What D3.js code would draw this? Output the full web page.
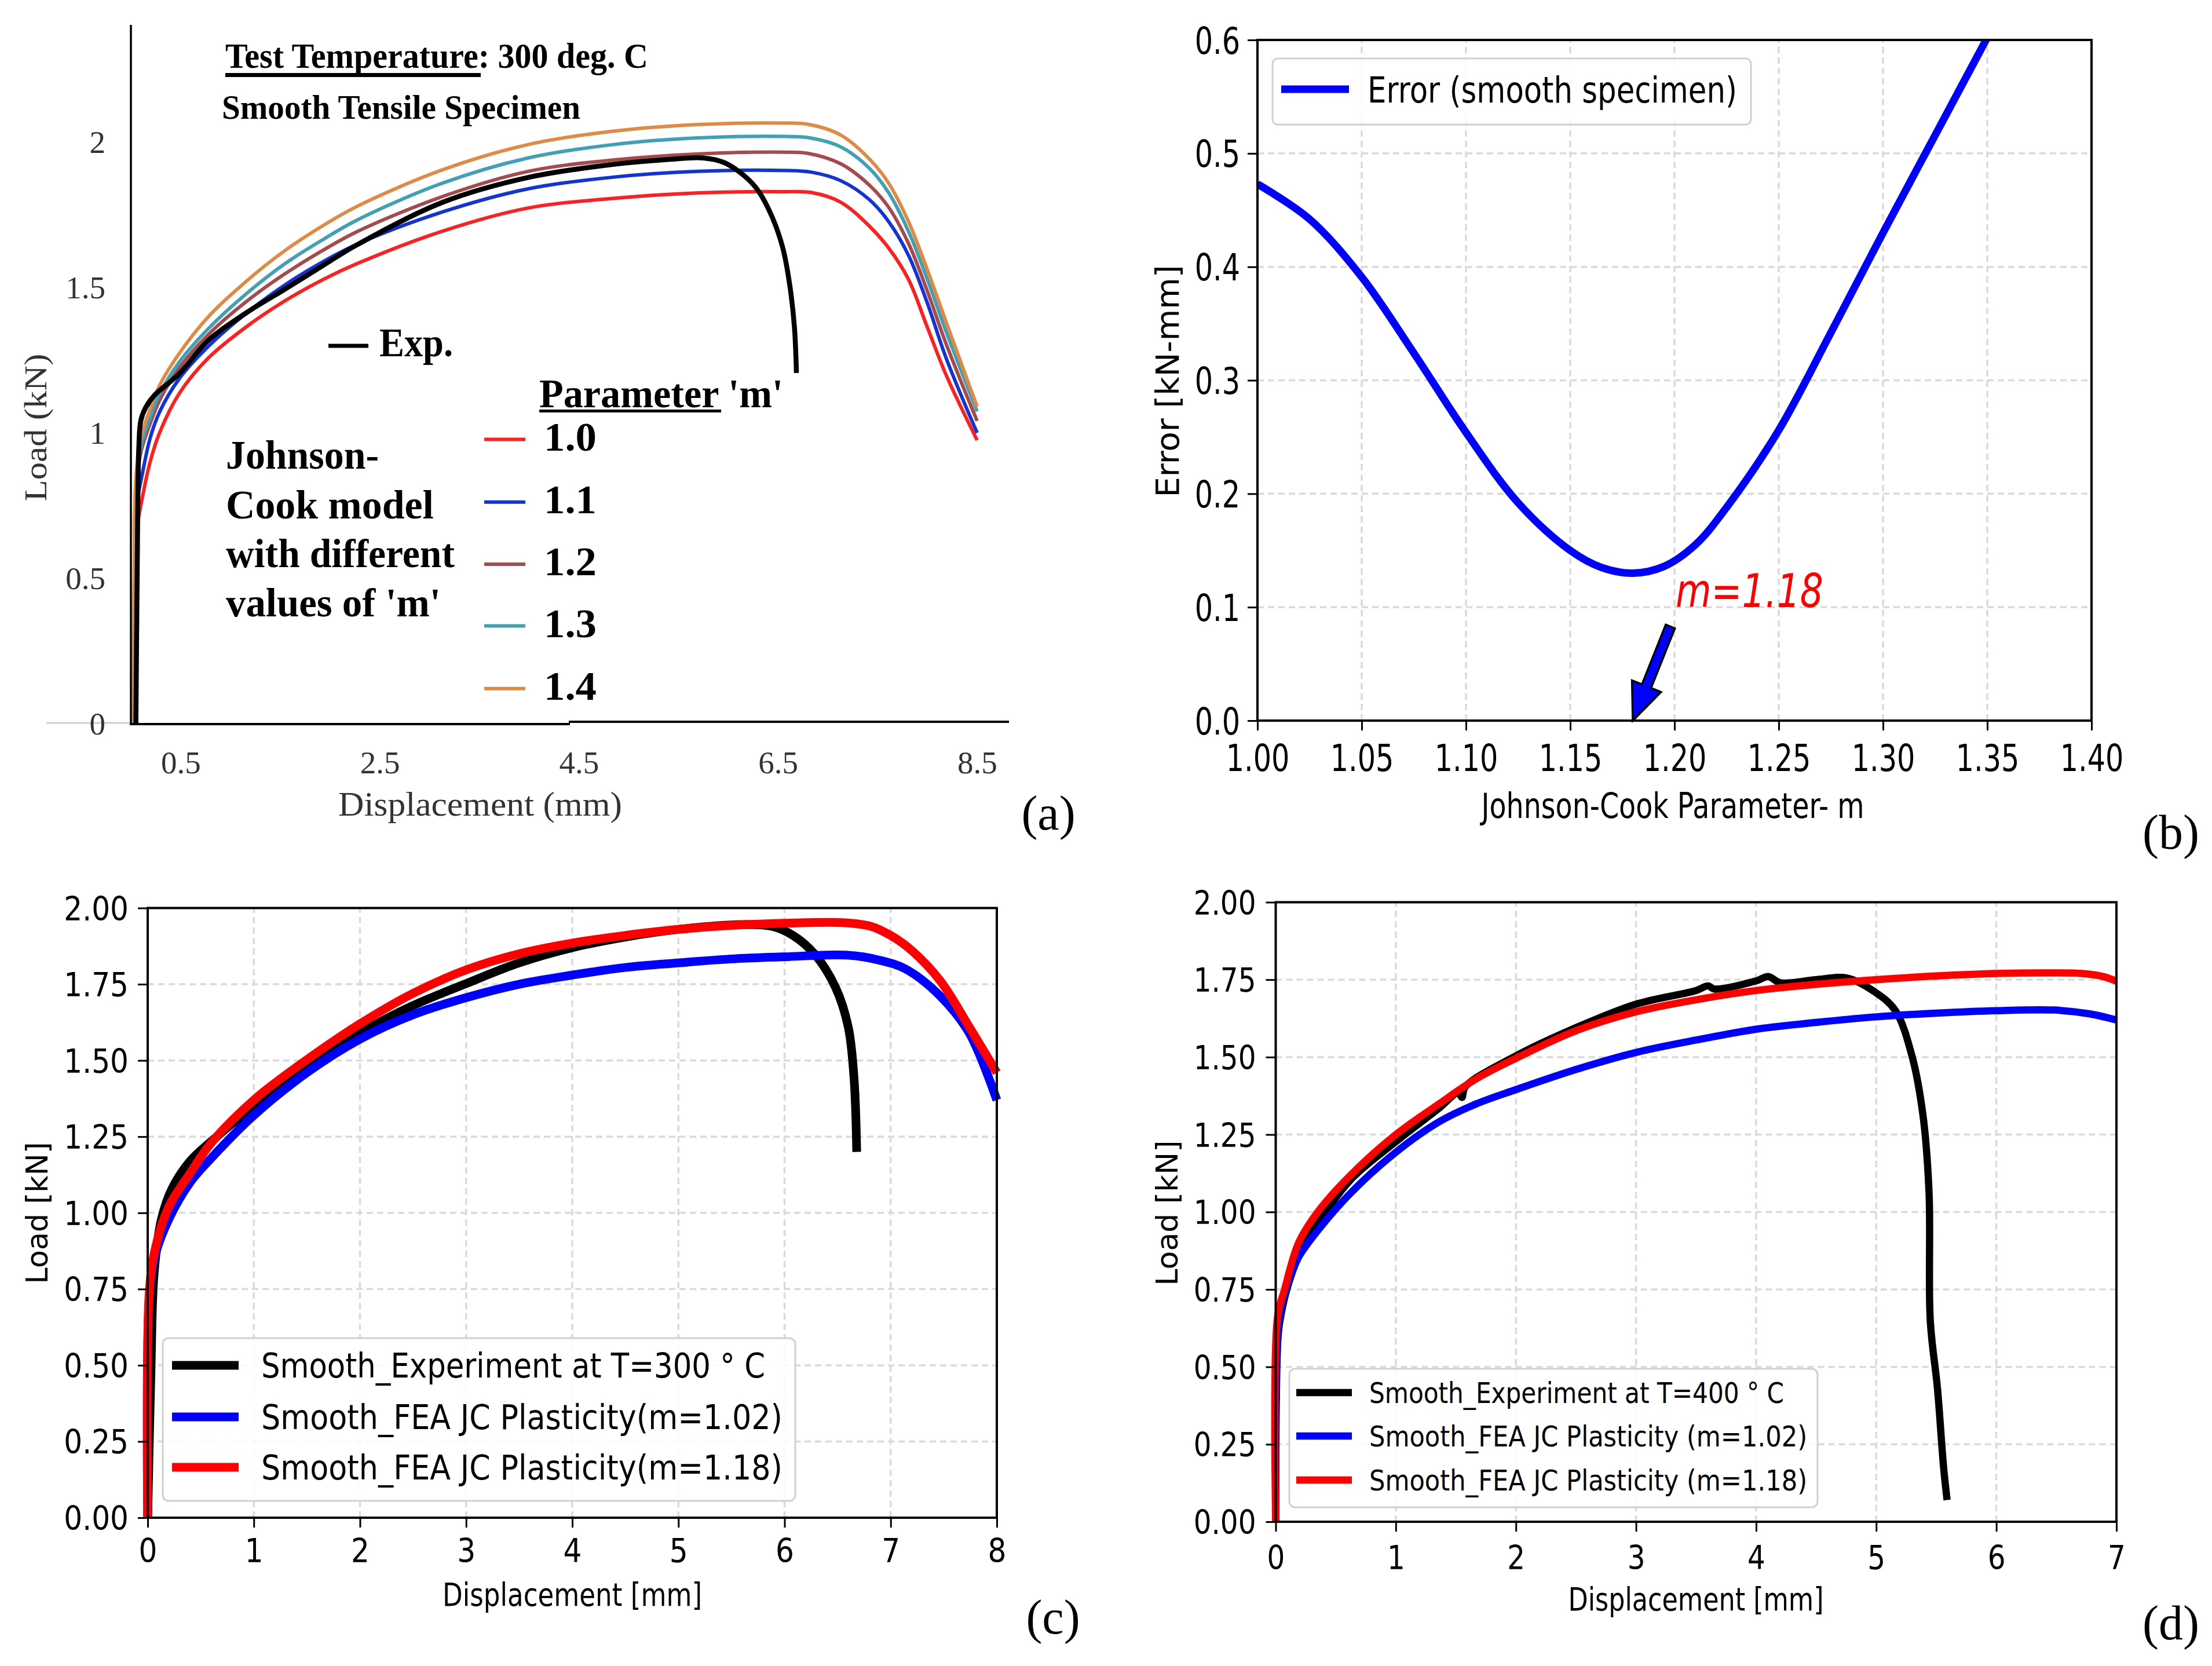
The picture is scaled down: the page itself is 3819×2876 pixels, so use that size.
<!DOCTYPE html>
<html><head><meta charset="utf-8">
<script src="https://cdn.jsdelivr.net/npm/d3@7"></script>
<style>body{margin:0;background:#fff}</style>
</head><body>
<script>
// ================= DATA =================
// Panel (a): Load vs displacement, JC model with different m (300 deg C)
const aXTicks = [0.5, 2.5, 4.5, 6.5, 8.5];
const aYTicks = [0, 0.5, 1, 1.5, 2];
const aParamLabels = ["1.0", "1.1", "1.2", "1.3", "1.4"];
const aColors = ["#ff1f1f", "#1233d6", "#a64a4c", "#41a0b6", "#e08b45"];
const aExp = [[0.05,0],[0.06,0.4],[0.068,0.7],[0.08,0.95],[0.1,1.04],[0.15,1.085],[0.233,1.125],[0.485,1.2],[0.777,1.315],[1.165,1.411],[1.553,1.492],[1.941,1.575],[2.279,1.645],[3.134,1.79],[3.989,1.875],[4.843,1.92],[5.4,1.937],[5.75,1.942],[5.96,1.926],[6.16,1.881],[6.3,1.83],[6.44,1.74],[6.55,1.63],[6.62,1.5],[6.665,1.36],[6.685,1.203]];
const aM10 = [[0.04,0],[0.045,0.4],[0.06,0.66],[0.116,0.776],[0.194,0.898],[0.291,1.0],[0.485,1.132],[0.777,1.254],[1.165,1.363],[1.553,1.452],[1.941,1.526],[2.279,1.58],[3.134,1.691],[3.989,1.77],[4.843,1.803],[5.698,1.822],[6.553,1.826],[6.84,1.823],[7.13,1.79],[7.42,1.707],[7.61,1.633],[7.81,1.525],[8.0,1.36],[8.19,1.195],[8.5,0.972]];
const aM11 = [[0.03,0],[0.04,0.5],[0.06,0.75],[0.116,0.858],[0.194,0.98],[0.291,1.071],[0.485,1.183],[0.777,1.294],[1.165,1.41],[1.553,1.507],[1.941,1.588],[2.279,1.647],[3.134,1.757],[3.989,1.836],[4.843,1.876],[5.698,1.896],[6.553,1.899],[6.84,1.893],[7.13,1.864],[7.42,1.798],[7.61,1.724],[7.81,1.608],[8.0,1.443],[8.19,1.253],[8.5,0.997]];
const aM12 = [[0.03,0],[0.035,0.5],[0.05,0.8],[0.1,0.93],[0.194,1.03],[0.291,1.111],[0.485,1.22],[0.777,1.335],[1.165,1.45],[1.553,1.545],[1.941,1.627],[2.279,1.69],[3.134,1.81],[3.989,1.896],[4.843,1.935],[5.698,1.956],[6.553,1.962],[6.8,1.958],[7.13,1.922],[7.42,1.848],[7.61,1.773],[7.81,1.649],[8.0,1.484],[8.19,1.302],[8.5,1.038]];
const aM13 = [[0.03,0],[0.035,0.55],[0.05,0.82],[0.1,0.95],[0.194,1.05],[0.291,1.132],[0.485,1.24],[0.777,1.355],[1.165,1.477],[1.553,1.58],[1.941,1.664],[2.279,1.73],[3.134,1.856],[3.989,1.942],[4.843,1.988],[5.698,2.011],[6.553,2.016],[6.8,2.012],[7.13,1.98],[7.42,1.906],[7.61,1.823],[7.81,1.69],[8.0,1.525],[8.19,1.344],[8.5,1.071]];
const aM14 = [[0.03,0],[0.035,0.6],[0.05,0.84],[0.1,0.98],[0.194,1.08],[0.291,1.162],[0.485,1.27],[0.777,1.396],[1.165,1.52],[1.553,1.625],[1.941,1.712],[2.279,1.777],[3.134,1.902],[3.989,1.988],[4.843,2.034],[5.698,2.057],[6.553,2.062],[6.8,2.058],[7.13,2.021],[7.42,1.938],[7.61,1.856],[7.81,1.724],[8.0,1.558],[8.19,1.377],[8.5,1.087]];

// Panel (b): error vs JC parameter m
const bXTicks = [1.00, 1.05, 1.10, 1.15, 1.20, 1.25, 1.30, 1.35, 1.40];
const bYTicks = [0.0, 0.1, 0.2, 0.3, 0.4, 0.5, 0.6];
const bM   = [1.00, 1.025, 1.05, 1.075, 1.10, 1.125, 1.15, 1.165, 1.18, 1.195, 1.21, 1.225, 1.25, 1.275, 1.30, 1.325, 1.35];
const bErr = [0.473, 0.442, 0.391, 0.324, 0.254, 0.192, 0.150, 0.135, 0.130, 0.136, 0.155, 0.188, 0.256, 0.342, 0.430, 0.516, 0.602];
const bBest = 1.18;
const bArrowTail = [1.198, 0.083];

// Panel (c): 300 deg C comparison
const cXTicks = [0, 1, 2, 3, 4, 5, 6, 7, 8];
const cYTicks = [0, 0.25, 0.5, 0.75, 1.0, 1.25, 1.5, 1.75, 2.0];
const cExp  = [[0,0],[0.03,0.47],[0.06,0.8],[0.13,0.98],[0.23,1.08],[0.4,1.17],[0.6,1.235],[1.0,1.35],[1.5,1.48],[2.0,1.59],[2.5,1.68],[3.0,1.752],[3.5,1.82],[4.0,1.87],[4.5,1.905],[5.0,1.93],[5.62,1.946],[5.88,1.94],[6.08,1.91],[6.28,1.85],[6.48,1.74],[6.6,1.61],[6.655,1.44],[6.68,1.20]];
const cM102 = [[0,0],[0.015,0.72],[0.07,0.86],[0.2,0.98],[0.4,1.10],[0.6,1.18],[1.0,1.32],[1.5,1.46],[2.0,1.57],[2.5,1.65],[3.0,1.706],[3.5,1.75],[4.0,1.78],[4.5,1.805],[5.0,1.82],[5.5,1.833],[6.0,1.84],[6.6,1.845],[6.88,1.83],[7.14,1.80],[7.47,1.71],[7.74,1.59],[8.0,1.37]];
const cM118 = [[0,0],[0.015,0.74],[0.07,0.88],[0.2,1.02],[0.4,1.13],[0.6,1.23],[1.0,1.37],[1.45,1.49],[2.0,1.62],[2.5,1.72],[3.0,1.797],[3.5,1.85],[4.0,1.885],[4.5,1.91],[5.0,1.93],[5.5,1.943],[6.0,1.95],[6.55,1.952],[6.81,1.94],[7.0,1.91],[7.2,1.86],[7.47,1.76],[7.74,1.61],[8.0,1.46]];

// Panel (d): 400 deg C comparison
const dXTicks = [0, 1, 2, 3, 4, 5, 6, 7];
const dYTicks = [0, 0.25, 0.5, 0.75, 1.0, 1.25, 1.5, 1.75, 2.0];
const dExp  = [[0,0],[0.02,0.6],[0.05,0.68],[0.1,0.76],[0.184,0.85],[0.35,0.962],[0.626,1.105],[0.994,1.225],[1.36,1.335],[1.52,1.385],[1.55,1.37],[1.58,1.405],[2.0,1.504],[2.5,1.595],[3.0,1.671],[3.5,1.715],[3.6,1.73],[3.65,1.72],[4.0,1.746],[4.1,1.76],[4.2,1.74],[4.5,1.75],[4.76,1.755],[4.99,1.71],[5.16,1.65],[5.3,1.50],[5.39,1.31],[5.44,1.06],[5.45,0.65],[5.51,0.43],[5.56,0.18],[5.59,0.07]];
const dM102 = [[0,0],[0.015,0.6],[0.04,0.68],[0.1,0.77],[0.184,0.85],[0.35,0.94],[0.626,1.062],[0.994,1.191],[1.36,1.291],[1.67,1.349],[2.0,1.395],[2.5,1.46],[3.0,1.515],[3.5,1.555],[4.0,1.59],[4.5,1.612],[5.0,1.63],[5.5,1.642],[6.0,1.65],[6.48,1.652],[6.77,1.64],[7.0,1.62]];
const dM118 = [[0,0],[0.015,0.66],[0.074,0.75],[0.19,0.90],[0.35,1.0],[0.626,1.12],[0.994,1.248],[1.36,1.349],[1.67,1.43],[2.0,1.496],[2.5,1.585],[3.0,1.646],[3.5,1.685],[4.0,1.715],[4.5,1.735],[5.0,1.75],[5.5,1.762],[6.0,1.77],[6.43,1.772],[6.71,1.77],[6.89,1.76],[7.0,1.745]];

// ================= DRAW =================
const W = 3819, H = 2876;
const svg = d3.select("body").append("svg").attr("width", W).attr("height", H)
  .attr("xmlns", "http://www.w3.org/2000/svg");
svg.append("rect").attr("width", W).attr("height", H).attr("fill", "#fff");

const SERIF = "'Liberation Serif','Times New Roman',serif";
const SANS = "'DejaVu Sans',sans-serif";
const CURVE = d3.curveCatmullRom.alpha(0.5);

function txt(g, s, x, y, o) {
  o = o || {};
  const t = g.append("text").attr("x", x).attr("y", y).text(s)
    .attr("font-family", o.family || SANS)
    .attr("font-size", o.size || 50)
    .attr("font-weight", o.weight || "normal")
    .attr("font-style", o.style || "normal")
    .attr("fill", o.fill || "#000")
    .attr("text-anchor", o.anchor || "start");
  if (o.len) t.attr("textLength", o.len).attr("lengthAdjust", "spacingAndGlyphs");
  if (o.rotate) t.attr("transform", `rotate(${o.rotate},${x},${y})`);
  return t;
}
function line(x, y) {
  return d3.line().x(d => x(d[0])).y(d => y(d[1])).curve(CURVE);
}
function grid(g, x, y, xt, yt) {
  const gs = {stroke: "#dadada", w: 3.5, dash: "11,7"};
  g.append("g").selectAll("line").data(xt).join("line")
    .attr("x1", d => x(d)).attr("x2", d => x(d)).attr("y1", y.range()[0]).attr("y2", y.range()[1])
    .attr("stroke", gs.stroke).attr("stroke-width", gs.w).attr("stroke-dasharray", gs.dash);
  g.append("g").selectAll("line").data(yt).join("line")
    .attr("y1", d => y(d)).attr("y2", d => y(d)).attr("x1", x.range()[0]).attr("x2", x.range()[1])
    .attr("stroke", gs.stroke).attr("stroke-width", gs.w).attr("stroke-dasharray", gs.dash);
}
function mplAxes(g, x, y, xt, yt, xf, yf, fs, sx, xBase, yGap) {
  const ax = g.append("g").attr("transform", `translate(0,${y.range()[0]})`)
    .call(d3.axisBottom(x).tickValues(xt).tickFormat(xf).tickSize(17).tickSizeOuter(0));
  ax.select(".domain").remove();
  ax.selectAll(".tick line").attr("stroke", "#000").attr("stroke-width", 3);
  ax.selectAll(".tick text").attr("y", xBase).attr("dy", 0)
    .attr("font-family", SANS).attr("font-size", fs).attr("fill", "#000")
    .attr("transform", `scale(${sx},1)`);
  const ay = g.append("g").attr("transform", `translate(${x.range()[0]},0)`)
    .call(d3.axisLeft(y).tickValues(yt).tickFormat(yf).tickSize(17).tickSizeOuter(0));
  ay.select(".domain").remove();
  ay.selectAll(".tick line").attr("stroke", "#000").attr("stroke-width", 3);
  ay.selectAll(".tick text").attr("x", 0).attr("dy", "0.36em")
    .attr("font-family", SANS).attr("font-size", fs).attr("fill", "#000")
    .attr("transform", `translate(${-yGap},0) scale(${sx},1)`);
  g.append("rect").attr("x", x.range()[0]).attr("y", y.range()[1])
    .attr("width", x.range()[1] - x.range()[0]).attr("height", y.range()[0] - y.range()[1])
    .attr("fill", "none").attr("stroke", "#000").attr("stroke-width", 4);
}

// ---------- Panel (a) ----------
{
  const g = svg.append("g");
  const x = d3.scaleLinear().domain([0, 8.82]).range([226, 1742]);
  const y = d3.scaleLinear().domain([0, 2]).range([1248, 243.6]);
  g.append("line").attr("x1", 80).attr("x2", 226).attr("y1", y(0)).attr("y2", y(0))
    .attr("stroke", "#cfcfcf").attr("stroke-width", 3);
  const ax = g.append("g").attr("transform", `translate(0,${y(0)})`)
    .call(d3.axisBottom(x).tickValues(aXTicks).tickFormat(d => String(d)).tickSize(0));
  ax.select(".domain").remove();
  ax.selectAll(".tick text").attr("y", 87).attr("dy", 0)
    .attr("font-family", SERIF).attr("font-size", 55).attr("fill", "#333");
  const ay = g.append("g").attr("transform", `translate(${x(0)},0)`)
    .call(d3.axisLeft(y).tickValues(aYTicks).tickFormat(d => String(d)).tickSize(0));
  ay.select(".domain").remove();
  ay.selectAll(".tick text").attr("x", -44).attr("dy", "0.36em")
    .attr("font-family", SERIF).attr("font-size", 55).attr("fill", "#333");
  g.append("line").attr("x1", 226).attr("x2", 226).attr("y1", 43).attr("y2", 1250)
    .attr("stroke", "#000").attr("stroke-width", 3.5);
  g.append("line").attr("x1", 224).attr("x2", 984).attr("y1", 1250).attr("y2", 1250)
    .attr("stroke", "#000").attr("stroke-width", 4);
  g.append("line").attr("x1", 982).attr("x2", 1742).attr("y1", 1246).attr("y2", 1246)
    .attr("stroke", "#000").attr("stroke-width", 4);
  const series = [aM10, aM11, aM12, aM13, aM14];
  series.forEach((s, i) => {
    g.append("path").attr("d", line(x, y)(s)).attr("fill", "none")
      .attr("stroke", aColors[i]).attr("stroke-width", 6);
  });
  g.append("path").attr("d", line(x, y)(aExp)).attr("fill", "none")
    .attr("stroke", "#000").attr("stroke-width", 8.5);
  txt(g, "Test Temperature: 300 deg. C", 389, 117, {family: SERIF, size: 62, weight: "bold", len: 730});
  g.append("rect").attr("x", 389).attr("y", 126).attr("width", 441).attr("height", 7).attr("fill", "#000");
  txt(g, "Smooth Tensile Specimen", 383, 205, {family: SERIF, size: 60, weight: "bold", len: 619});
  g.append("line").attr("x1", 567).attr("x2", 636).attr("y1", 597).attr("y2", 597)
    .attr("stroke", "#000").attr("stroke-width", 7);
  txt(g, "Exp.", 655, 615, {family: SERIF, size: 70, weight: "bold", len: 127});
  txt(g, "Parameter 'm'", 931, 703, {family: SERIF, size: 70, weight: "bold", len: 421});
  g.append("rect").attr("x", 931).attr("y", 707).attr("width", 314).attr("height", 5).attr("fill", "#000");
  const legY = [758.5, 866.8, 974, 1080.5, 1188.7];
  aParamLabels.forEach((lab, i) => {
    g.append("line").attr("x1", 836).attr("x2", 907).attr("y1", legY[i]).attr("y2", legY[i])
      .attr("stroke", aColors[i]).attr("stroke-width", 6);
    txt(g, lab, 939, legY[i] + 19, {family: SERIF, size: 70, weight: "bold", len: 91});
  });
  const jc = [["Johnson-", 809, 264], ["Cook model", 895, 359], ["with different", 979, 395], ["values of 'm'", 1064, 371]];
  jc.forEach(d => txt(g, d[0], 390, d[1], {family: SERIF, size: 70, weight: "bold", len: d[2]}));
  txt(g, "Displacement (mm)", 829, 1408, {family: SERIF, size: 59, fill: "#333", anchor: "middle", len: 490});
  txt(g, "Load (kN)", 80, 738, {family: SERIF, size: 55, fill: "#333", anchor: "middle", len: 255, rotate: -90});
  txt(g, "(a)", 1810, 1432, {family: SERIF, size: 84, anchor: "middle"});
}

// ---------- Panel (b) ----------
{
  const g = svg.append("g");
  const x = d3.scaleLinear().domain([1.0, 1.4]).range([2171, 3611]);
  const y = d3.scaleLinear().domain([0, 0.6]).range([1244, 69]);
  grid(g, x, y, bXTicks.slice(1, -1), bYTicks.slice(1, -1));
  g.append("clipPath").attr("id", "clipb").append("rect")
    .attr("x", 2171).attr("y", 69).attr("width", 1440).attr("height", 1175);
  const pts = bM.map((m, i) => [m, bErr[i]]);
  g.append("path").attr("d", line(x, y)(pts)).attr("fill", "none")
    .attr("stroke", "#0000ff").attr("stroke-width", 13).attr("clip-path", "url(#clipb)");
  mplAxes(g, x, y, bXTicks, bYTicks, d3.format(".2f"), d3.format(".1f"), 64, 0.77, 87, 30);
  g.append("rect").attr("x", 2197).attr("y", 101).attr("width", 826).attr("height", 114)
    .attr("rx", 9).attr("fill", "#fff").attr("fill-opacity", 0.85).attr("stroke", "#d0d0d0").attr("stroke-width", 3);
  g.append("line").attr("x1", 2212).attr("x2", 2329).attr("y1", 154).attr("y2", 154)
    .attr("stroke", "#0000ff").attr("stroke-width", 13);
  txt(g, "Error (smooth specimen)", 2361, 177, {size: 62, len: 638});
  const tip = [x(bBest), y(0)], tail = [x(bArrowTail[0]), y(bArrowTail[1])];
  const dx = tip[0] - tail[0], dy = tip[1] - tail[1], L = Math.hypot(dx, dy);
  const u = [dx / L, dy / L], p = [-u[1], u[0]];
  const hb = [tip[0] - u[0] * 64, tip[1] - u[1] * 64];
  const P = (c, k) => [c[0] + p[0] * k, c[1] + p[1] * k];
  const poly = [P(tail, 8.5), P(hb, 8.5), P(hb, 27), tip, P(hb, -27), P(hb, -8.5), P(tail, -8.5)];
  g.append("polygon").attr("points", poly.map(q => q.join(",")).join(" "))
    .attr("fill", "#0000ff").attr("stroke", "#000").attr("stroke-width", 3.5).attr("stroke-linejoin", "miter");
  txt(g, "m=1.18", 2893, 1048, {size: 80, style: "italic", fill: "#ff0000", len: 255});
  txt(g, "Johnson-Cook Parameter- m", 2888, 1412, {size: 60, anchor: "middle", len: 661});
  txt(g, "Error [kN-mm]", 2035, 658, {size: 56, anchor: "middle", len: 401, rotate: -90});
  txt(g, "(b)", 3748, 1465, {family: SERIF, size: 84, anchor: "middle"});
}

// ---------- Panel (c) ----------
{
  const g = svg.append("g");
  const x = d3.scaleLinear().domain([0, 8]).range([255, 1721]);
  const y = d3.scaleLinear().domain([0, 2]).range([2620, 1567.5]);
  grid(g, x, y, cXTicks.slice(1, -1), cYTicks.slice(1, -1));
  const S = [[cExp, "#000"], [cM102, "#0000ff"], [cM118, "#ff0000"]];
  S.forEach(s => g.append("path").attr("d", line(x, y)(s[0])).attr("fill", "none")
    .attr("stroke", s[1]).attr("stroke-width", 15));
  mplAxes(g, x, y, cXTicks, cYTicks, d3.format("d"), d3.format(".2f"), 57, 0.88, 77, 33);
  g.append("rect").attr("x", 281).attr("y", 2310).attr("width", 1092).attr("height", 281)
    .attr("rx", 10).attr("fill", "#fff").attr("fill-opacity", 0.85).attr("stroke", "#d0d0d0").attr("stroke-width", 3);
  const leg = [["Smooth_Experiment at T=300 ° C", "#000", 2357, 870],
               ["Smooth_FEA JC Plasticity(m=1.02)", "#0000ff", 2446, 900],
               ["Smooth_FEA JC Plasticity(m=1.18)", "#ff0000", 2533, 900]];
  leg.forEach(l => {
    g.append("line").attr("x1", 297).attr("x2", 412).attr("y1", l[2]).attr("y2", l[2])
      .attr("stroke", l[1]).attr("stroke-width", 15);
    txt(g, l[0], 451, l[2] + 21, {size: 59, len: l[3]});
  });
  txt(g, "Displacement [mm]", 988, 2772, {size: 55, anchor: "middle", len: 448});
  txt(g, "Load [kN]", 82, 2094, {size: 52, anchor: "middle", len: 245, rotate: -90});
  txt(g, "(c)", 1818, 2820, {family: SERIF, size: 84, anchor: "middle"});
}

// ---------- Panel (d) ----------
{
  const g = svg.append("g");
  const x = d3.scaleLinear().domain([0, 7]).range([2202.5, 3654]);
  const y = d3.scaleLinear().domain([0, 2]).range([2627, 1557.5]);
  grid(g, x, y, dXTicks.slice(1, -1), dYTicks.slice(1, -1));
  const S = [[dExp, "#000"], [dM102, "#0000ff"], [dM118, "#ff0000"]];
  S.forEach(s => g.append("path").attr("d", line(x, y)(s[0])).attr("fill", "none")
    .attr("stroke", s[1]).attr("stroke-width", 12.5));
  mplAxes(g, x, y, dXTicks, dYTicks, d3.format("d"), d3.format(".2f"), 57, 0.85, 82, 34);
  g.append("rect").attr("x", 2226).attr("y", 2363).attr("width", 912).attr("height", 239)
    .attr("rx", 10).attr("fill", "#fff").attr("fill-opacity", 0.85).attr("stroke", "#d0d0d0").attr("stroke-width", 3);
  const leg = [["Smooth_Experiment at T=400 ° C", "#000", 2404, 716],
               ["Smooth_FEA JC Plasticity (m=1.02)", "#0000ff", 2479, 756],
               ["Smooth_FEA JC Plasticity (m=1.18)", "#ff0000", 2555, 756]];
  leg.forEach(l => {
    g.append("line").attr("x1", 2238).attr("x2", 2334).attr("y1", l[2]).attr("y2", l[2])
      .attr("stroke", l[1]).attr("stroke-width", 12.5);
    txt(g, l[0], 2364, l[2] + 18, {size: 49, len: l[3]});
  });
  txt(g, "Displacement [mm]", 2928, 2780, {size: 55, anchor: "middle", len: 441});
  txt(g, "Load [kN]", 2033, 2094, {size: 52, anchor: "middle", len: 251, rotate: -90});
  txt(g, "(d)", 3748, 2830, {family: SERIF, size: 84, anchor: "middle"});
}
</script>
</body></html>
